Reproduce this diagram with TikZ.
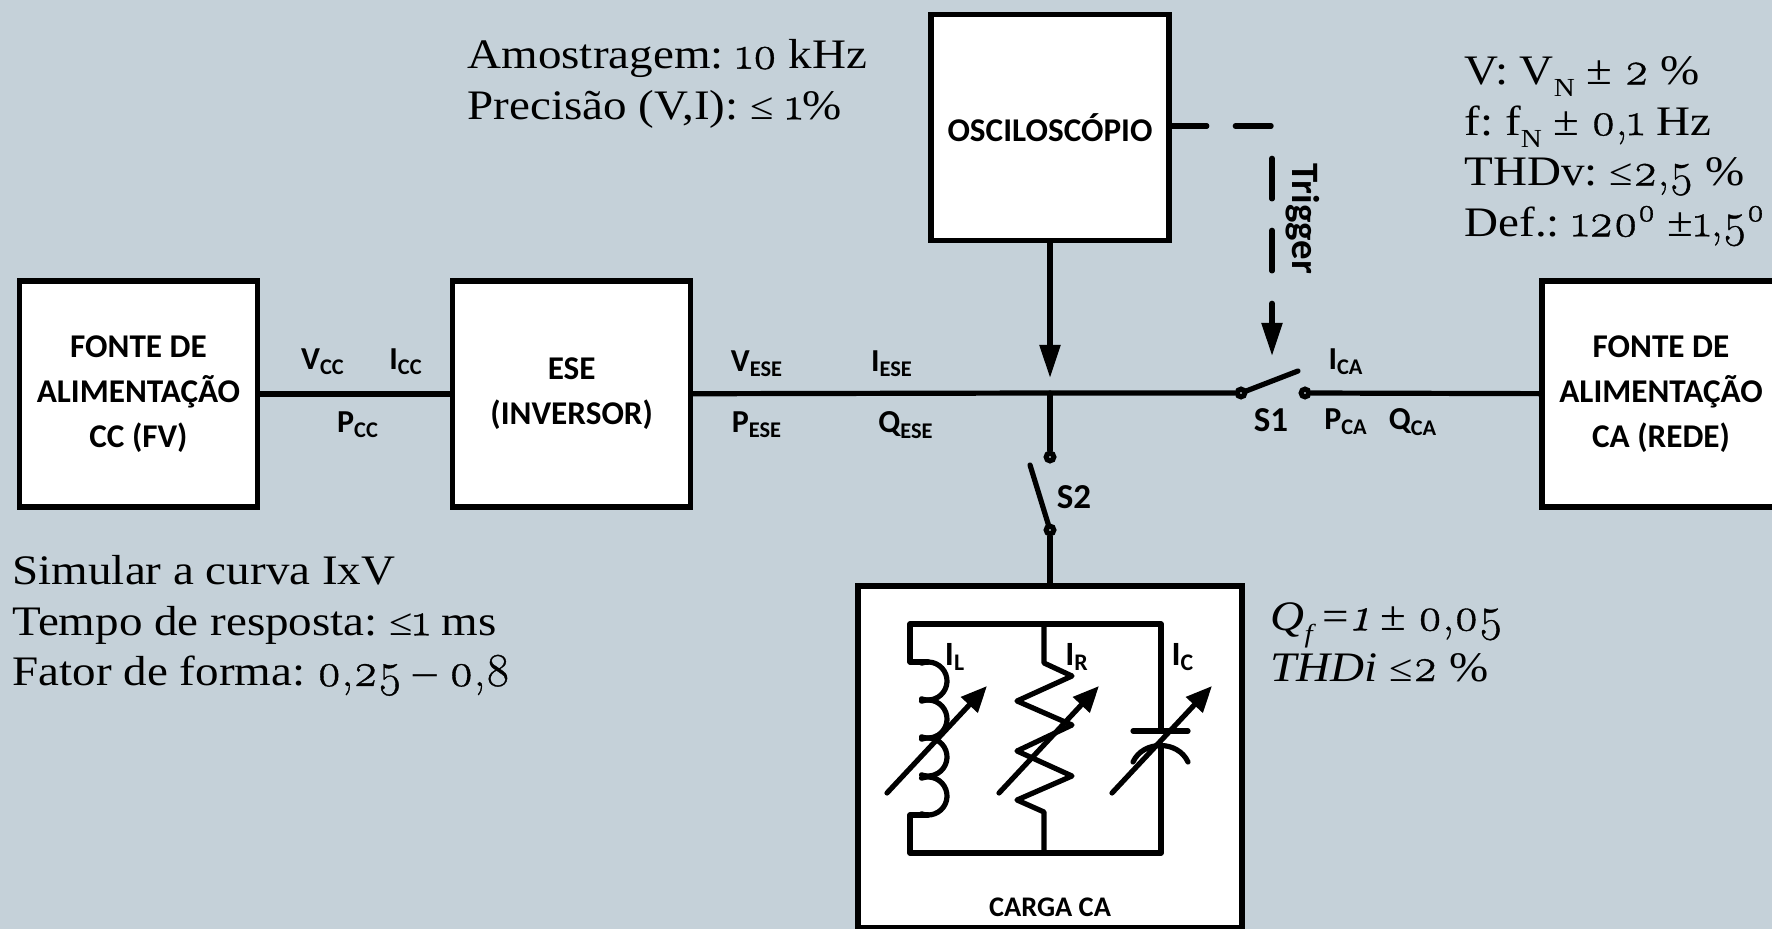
\documentclass[tikz,border=0pt]{standalone}
\usepackage{fontspec}
\setmainfont[FakeStretch=1.12]{Liberation Serif}
\setsansfont{Carlito}
\newfontfamily\oldfam[Numbers=OldStyle,Scale=1.12,FakeBold=0.8]{Latin Modern Roman}
\newcommand{\os}[1]{{\oldfam #1}}
\newcommand{\leqs}{{\fontsize{19}{19}\selectfont ≤}}
\newcommand{\lowsub}[1]{\raisebox{-6pt}{\fontsize{13}{13}\selectfont #1}}
\frenchspacing
\usetikzlibrary{arrows.meta, positioning}
\definecolor{cback}{HTML}{C5D1D9}
\tikzset{
  every picture/.style={x=0.5pt, y=-0.5pt, line width=2.6pt},
  box/.style={draw, fill=white, line width=2.6pt, align=center, minimum width=119pt, minimum height=113pt, font=\sffamily\bfseries\fontsize{16.6}{22.5}\selectfont},
  wire/.style={line width=2.6pt, line join=round, line cap=round},
  arrow/.style={-{Triangle[length=16.5pt, width=10pt]}, line width=2.6pt},
  varrow/.style={-{Triangle[length=13pt, width=11pt]}, line width=2.6pt, line cap=round},
  contact/.style={circle, draw, fill=cback, line width=2.6pt, inner sep=0pt, minimum size=3.8pt},
  sig/.style={font=\sffamily\bfseries\fontsize{16}{18}\selectfont, inner sep=0pt},
  note/.style={font=\fontsize{21}{25.3}\selectfont, align=left, anchor=north west, inner sep=0pt},
}
\begin{document}
\begin{tikzpicture}
  \fill[cback] (0,0) rectangle (1772,929);
  \useasboundingbox (0,0) rectangle (1772,929);
  \node[box] (fontecc) at (138.5,394) {FONTE DE\\ALIMENTAÇÃO\\CC (FV)};
  \node[box, right=95pt of fontecc] (ese) {ESE\\(INVERSOR)};
  \node[box] (osc) at (1050,127.5) {OSCILOSCÓPIO};
  \node[box] (fonteca) at (1661,394) {FONTE DE\\ALIMENTAÇÃO\\CA (REDE)};
  \node[box, minimum width=192pt, minimum height=171pt] (carga) at (1050,757) {};
  \coordinate (j) at (1050,393);
  \node[contact] (s1a) at (1241,393) {};
  \node[contact] (s1b) at (1305,393) {};
  \node[contact] (s2a) at (1050,457) {};
  \node[contact] (s2b) at (1050,530) {};
  \coordinate (s1e) at (1298,371);
  \coordinate (s2e) at (1030,465);
  \coordinate (trg) at (1272,356);
  \draw[wire] (fontecc) -- (ese);
  \draw[wire] (ese) -- (j) -- (s1a);
  \draw[wire] (s1b) -- (fonteca);
  \draw[wire] (j) -- (s2a);
  \draw[wire] (s2b) -- (carga);
  \draw[wire] (s1a) -- (s1e);
  \draw[wire] (s2b) -- (s2e);
  \draw[arrow] (osc) -- (j |- 0,378);
  \draw[arrow, line cap=round, dash pattern=on 17.6pt off 14.25pt on 17.9pt off 16.6pt on 20.3pt off 15.7pt on 20.3pt off 16.2pt on 60pt off 0pt] (osc.east |- 0,126) -| (trg);
  \node[sig] at (323,362) {V\textsubscript{CC}};
  \node[sig] at (406,362) {I\textsubscript{CC}};
  \node[sig] at (358,425) {P\textsubscript{CC}};
  \node[sig] at (757,364) {V\textsubscript{ESE}};
  \node[sig] at (892,364) {I\textsubscript{ESE}};
  \node[sig] at (757,425) {P\textsubscript{ESE}};
  \node[sig] at (906,425) {Q\textsubscript{ESE}};
  \node[sig] at (1346,362) {I\textsubscript{CA}};
  \node[sig] at (1346,422) {P\textsubscript{CA}};
  \node[sig] at (1413,422) {Q\textsubscript{CA}};
  \node[sig, font=\sffamily\bfseries\fontsize{17.5}{18}\selectfont] at (1271,420) {S1};
  \node[sig, font=\sffamily\bfseries\fontsize{17.5}{18}\selectfont] at (1074,497) {S2};
  \node[sig, rotate=-90, font=\sffamily\bfseries\fontsize{19.4}{20}\selectfont] at (1303,219) {Trigger};
  \draw[wire] (910,662) -- (910,624) -- (1161,624) -- (1161,731);
  \draw[wire] (1133,731) -- (1188,731);
  \draw[wire] (1133,762) .. controls (1143,740) and (1178,740) .. (1188,762);
  \draw[wire] (1161,746) -- (1161,853) -- (910,853) -- (910,815) -- (928,815);
  \draw[wire] (910,662) -- (928,662);
  \foreach \cy in {681,719,757,796}
    \draw[wire] (928,\cy) ++(110:9.5pt) arc[start angle=110, end angle=-110, radius=9.5pt];
  \draw[wire] (1044,624) -- (1044,663) -- (1072,676) -- (1017,701) -- (1072,725) -- (1017,751) -- (1072,776) -- (1017,800) -- (1044,812) -- (1044,853);
  \foreach \xa in {887,999,1112}
    \draw[varrow] (\xa,793) -- (\xa+100,686);
  \node[sig, font=\sffamily\bfseries\fontsize{17}{18}\selectfont] at (955,657) {I\textsubscript{L}};
  \node[sig, font=\sffamily\bfseries\fontsize{17}{18}\selectfont] at (1077,657) {I\textsubscript{R}};
  \node[sig, font=\sffamily\bfseries\fontsize{17}{18}\selectfont] at (1183,657) {I\textsubscript{C}};
  \node[sig, font=\sffamily\bfseries\fontsize{14.2}{16}\selectfont] at (1050,907) {CARGA CA};
  \node[note] at (465,37) {Amostragem: \os{10} kHz\\Precisão (V,I): \leqs{} \os{1}\%};
  \node[note] at (1462,54) {V: V\lowsub{N} ± \os{2} \%\\f: f\lowsub{N} ± \os{0,1} Hz\\THDv: \leqs\os{2,5} \%\\Def.: \os{120}\textsuperscript{\os{0}} ±\os{1,5}\textsuperscript{\os{0}}};
  \node[note] at (10,553) {Simular a curva IxV\\Tempo de resposta: \leqs\os{1} ms\\Fator de forma: \os{0,25} – \os{0,8}};
  \node[note] at (1268,600) {\textit{Q\lowsub{\itshape f}\,=\os{\itshape 1}} ± \os{0,05}\\\textit{THDi} \leqs\os{2} \%};
\end{tikzpicture}
\end{document}
